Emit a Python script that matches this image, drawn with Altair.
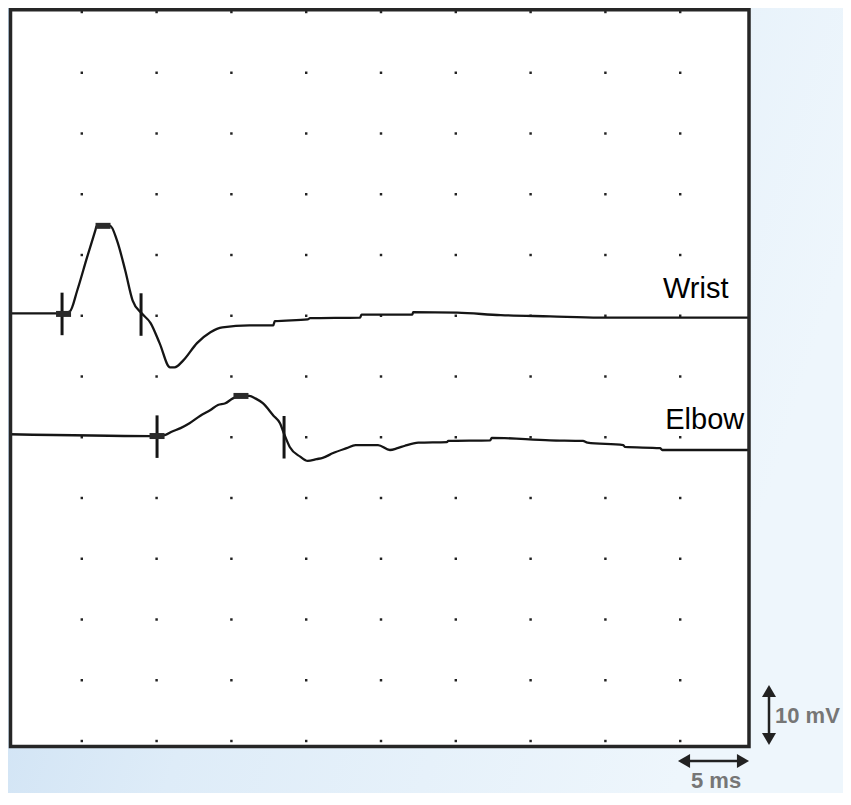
import altair as alt
import pandas as pd

# ---------------- data ----------------
# time axis: 10 divisions of 5 ms; amplitude: 12 divisions of 10 mV
WRIST_T = [0, 3.2, 3.7, 4.2, 4.7, 5.35, 5.9, 6.0, 6.9, 7.35, 7.9, 8.4, 9.0, 9.6, 10.2,
           10.9, 11.2, 11.8, 12.7, 13.6, 14.4, 16.2, 17.8, 17.9, 20.1, 20.25, 23.6, 23.7,
           27.1, 27.15, 30.1, 33.0, 36.3, 39.6, 50]
WRIST_MV = [0.1, 0.1, 0.1, 0.4, 3.9, 9.3, 13.7, 14.5, 14.5, 12.1, 7.2, 2.2, 0.1, -1.5, -4.8,
            -8.8, -8.8, -7.6, -4.8, -3.0, -2.2, -1.9, -1.9, -1.2, -0.9, -0.7, -0.6, -0.1,
            -0.1, 0.3, 0.2, -0.2, -0.4, -0.6, -0.6]

ELBOW_T = [0, 9.6, 10.0, 10.6, 11.0, 11.6, 12.2, 12.9, 13.6, 14.1, 14.6, 15.1, 15.6, 16.2,
           16.6, 17.1, 17.8, 18.25, 18.5, 18.9, 19.6, 20.1, 20.7, 21.1, 21.8, 22.7, 23.3,
           24.8, 25.6, 26.1, 26.6, 27.5, 29.4, 29.5, 32.3, 32.4, 36.3, 38.5, 38.8, 41.2,
           41.3, 43.65, 43.8, 50]
ELBOW_MV = [0.2, -0.1, -0.1, 0.1, 0.6, 1.2, 2.0, 3.2, 4.2, 5.0, 5.3, 6.1, 6.5, 6.5, 6.1,
            5.3, 3.3, 2.0, 0.4, -1.9, -3.5, -4.2, -3.9, -3.7, -2.9, -2.1, -1.6, -1.6, -2.4,
            -2.1, -1.7, -1.2, -1.1, -0.9, -0.8, -0.4, -0.8, -0.9, -1.2, -1.6, -1.9, -2.1,
            -2.4, -2.4]

TRACES = ["Wrist", "Elbow"]
TRACE_BASELINE_MV = [10.3, -9.7]       # display offset of each trace on the screen grid

# latency cursors (vertical bars)
CURSOR_TRACE = ["Wrist", "Wrist", "Elbow", "Elbow"]
CURSOR_T = [3.68, 8.96, 10.03, 18.52]
CURSOR_MV = [0.0, -0.1, -0.2, -0.3]

# amplitude markers (small filled blocks)
BLOCK_TRACE = ["Wrist", "Wrist", "Elbow", "Elbow"]
BLOCK_T = [3.78, 6.42, 10.03, 15.64]
BLOCK_MV = [0.0, 14.5, -0.1, 6.5]

GRID_T = [5, 10, 15, 20, 25, 30, 35, 40, 45]
GRID_MV = [-60, -50, -40, -30, -20, -10, 0, 10, 20, 30, 40, 50, 60]

LABELS = ["Wrist", "Elbow"]
LABEL_T = [43.85, 44.0]
LABEL_MV = [12.9, -8.6]

# ---------------- tables ----------------
offset = dict(zip(TRACES, TRACE_BASELINE_MV))
trace_df = pd.concat([
    pd.DataFrame({"trace": "Wrist", "t": WRIST_T, "mv": [v + offset["Wrist"] for v in WRIST_MV]}),
    pd.DataFrame({"trace": "Elbow", "t": ELBOW_T, "mv": [v + offset["Elbow"] for v in ELBOW_MV]}),
], ignore_index=True)

HALF = 3.5
cursor_df = pd.DataFrame({
    "trace": CURSOR_TRACE, "t": CURSOR_T,
    "top": [m + offset[tr] + HALF for m, tr in zip(CURSOR_MV, CURSOR_TRACE)],
    "bottom": [m + offset[tr] - HALF for m, tr in zip(CURSOR_MV, CURSOR_TRACE)],
})
block_df = pd.DataFrame({
    "trace": BLOCK_TRACE, "t": BLOCK_T,
    "mv": [m + offset[tr] for m, tr in zip(BLOCK_MV, BLOCK_TRACE)],
})
grid_df = pd.DataFrame([(t, v) for t in GRID_T for v in GRID_MV], columns=["t", "mv"])
label_df = pd.DataFrame({"label": LABELS, "t": LABEL_T, "mv": LABEL_MV})
one = pd.DataFrame({"a": [0]})

# ---------------- scales ----------------
W, H = 739, 739
xs = alt.Scale(domain=[0, 50], range=[-3, 745], nice=False, zero=False)
ys = alt.Scale(domain=[-60, 60], range=[733, 4], nice=False, zero=False)
X = lambda f: alt.X(f, type="quantitative", scale=xs, axis=None)
Y = lambda f: alt.Y(f, type="quantitative", scale=ys, axis=None)

FONT = "Liberation Sans"
INK = "#151515"

background = alt.Chart(one).mark_rect(
    fill=alt.Gradient(
        gradient="linear", x1=0, y1=0, x2=1, y2=0.3,
        stops=[alt.GradientStop(offset=0, color="#c4dbf1"),
               alt.GradientStop(offset=0.45, color="#deecf8"),
               alt.GradientStop(offset=1, color="#eef6fc")]),
).encode(x=alt.value(-10), x2=alt.value(840), y=alt.value(-8), y2=alt.value(795))

paper = alt.Chart(one).mark_rect(fill="white").encode(
    x=alt.value(0.5), x2=alt.value(739), y=alt.value(1.75), y2=alt.value(738.5))

dots = alt.Chart(grid_df).mark_square(size=6, color="#222", opacity=1).encode(
    x=X("t"), y=Y("mv"))

lines = alt.Chart(trace_df).mark_line(
    color=INK, strokeWidth=2.3, clip=True, interpolate="monotone").encode(
    x=X("t"), y=Y("mv"), detail="trace:N")

cursors = alt.Chart(cursor_df).mark_rule(color=INK, strokeWidth=3).encode(
    x=X("t"), y=Y("top"), y2="bottom")

blocks = alt.Chart(block_df).mark_tick(
    orient="horizontal", size=15, thickness=6, color="#2a2a2a", opacity=1).encode(
    x=X("t"), y=Y("mv"))

labels = alt.Chart(label_df).mark_text(
    font=FONT, fontSize=29, color="#000", align="left", baseline="alphabetic").encode(
    x=X("t"), y=Y("mv"), text="label:N")

frame = alt.Chart(one).mark_rect(fill=None, stroke="#262626", strokeWidth=3.5).encode(
    x=alt.value(0.5), x2=alt.value(739), y=alt.value(1.75), y2=alt.value(738.5))

# scale bars (annotation, placed in pixels)
ARROW = "#222"
v_shaft = alt.Chart(one).mark_rule(color=ARROW, strokeWidth=2.5).encode(
    x=alt.value(759), y=alt.value(683), y2=alt.value(731))
v_up = alt.Chart(one).mark_point(shape="triangle-up", filled=True, size=196, color=ARROW, opacity=1).encode(
    x=alt.value(759), y=alt.value(683))
v_down = alt.Chart(one).mark_point(shape="triangle-down", filled=True, size=196, color=ARROW, opacity=1).encode(
    x=alt.value(759), y=alt.value(731))
h_shaft = alt.Chart(one).mark_rule(color=ARROW, strokeWidth=2.5).encode(
    x=alt.value(674), x2=alt.value(733), y=alt.value(753))
h_left = alt.Chart(one).mark_point(shape="triangle-left", filled=True, size=196, color=ARROW, opacity=1).encode(
    x=alt.value(674), y=alt.value(753))
h_right = alt.Chart(one).mark_point(shape="triangle-right", filled=True, size=196, color=ARROW, opacity=1).encode(
    x=alt.value(733), y=alt.value(753))
mv_text = alt.Chart(one).mark_text(
    text="10 mV", font=FONT, fontSize=22, fontWeight="bold", color="#767676",
    align="left", baseline="alphabetic").encode(x=alt.value(765), y=alt.value(715))
ms_text = alt.Chart(one).mark_text(
    text="5 ms", font=FONT, fontSize=22, fontWeight="bold", color="#767676",
    align="left", baseline="alphabetic").encode(x=alt.value(681), y=alt.value(780))

chart = alt.layer(
    background, paper, dots, lines, cursors, blocks, labels, frame,
    v_shaft, v_up, v_down, h_shaft, h_left, h_right, mv_text, ms_text,
).properties(
    width=W, height=H,
    autosize=alt.AutoSizeParams(type="none"),
    padding={"left": 2, "top": 0, "right": 94, "bottom": 46},
    background="#e2eef9",
).configure_view(stroke=None)

chart.save("out.html", embed_options={"renderer": "svg", "actions": False})
